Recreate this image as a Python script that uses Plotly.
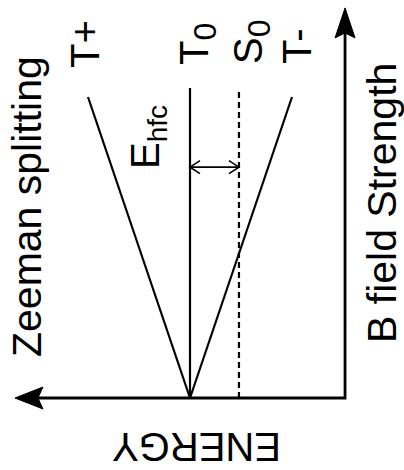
import plotly.graph_objects as go

W, H = 404, 470

# Energy levels of the radical pair versus applied field.
# Energy increases to the left, field strength increases upward.
levels = ["T+", "T0", "S0", "T-"]
level_labels = ["T+",
                "T<sub><span style='font-size:32px'>0</span></sub>",
                "S<sub><span style='font-size:32px'>0</span></sub>",
                "T-"]
energy_at_zero_field = [0.0, 0.0, -0.48, 0.0]
energy_at_top_field = [1.0, 0.0, -0.48, -1.0]
top_field = [1.0, 1.03, 1.02, 1.0]
level_dash = ["solid", "solid", "6px,4px", "solid"]

e_hfc = 0.48          # hyperfine splitting between T0 and S0
hfc_arrow_field = 0.767

energy_axis = [-1.52, 1.716]   # corner -> arrow tip
field_axis = [0.0, 1.296]      # corner -> arrow tip

x_range = [1.8627, -2.098]
y_range = [-0.2392, 1.3223]
px_per_e = W / (x_range[0] - x_range[1])
px_per_b = H / (y_range[1] - y_range[0])


def to_data(e0, b0, dx, dy):
    """Offset a data point by screen pixels (dx right, dy up)."""
    return e0 - dx / px_per_e, b0 + dy / px_per_b


def barbed_head(e0, b0, ux, uy, length, half, notch):
    """Filled barbed arrowhead with its tip at (e0, b0) pointing along (ux, uy)."""
    nx, ny = -uy, ux
    pts = [(0, 0),
           (-length * ux + half * nx, -length * uy + half * ny),
           (-notch * ux, -notch * uy),
           (-length * ux - half * nx, -length * uy - half * ny),
           (0, 0)]
    es, bs = zip(*[to_data(e0, b0, px, py) for px, py in pts])
    return list(es), list(bs)


def chevron(e0, b0, ux, uy, length, half):
    nx, ny = -uy, ux
    pts = [(-length * ux + half * nx, -length * uy + half * ny),
           (0, 0),
           (-length * ux - half * nx, -length * uy - half * ny)]
    es, bs = zip(*[to_data(e0, b0, px, py) for px, py in pts])
    return list(es), list(bs)


fig = go.Figure()

# L-shaped axes
fig.add_trace(go.Scatter(
    x=[energy_axis[1] - 20 / px_per_e, energy_axis[0], energy_axis[0]],
    y=[field_axis[0], field_axis[0], field_axis[1] - 20 / px_per_b],
    mode="lines", line=dict(color="black", width=2.8),
    hoverinfo="skip", showlegend=False))

he, hb = barbed_head(energy_axis[1], field_axis[0], -1, 0, 28, 11, 23)
fig.add_trace(go.Scatter(x=he, y=hb, mode="lines", fill="toself",
                         fillcolor="black", line=dict(color="black", width=1),
                         hoverinfo="skip", showlegend=False))
he, hb = barbed_head(energy_axis[0], field_axis[1], 0, 1, 30, 10, 25)
fig.add_trace(go.Scatter(x=he, y=hb, mode="lines", fill="toself",
                         fillcolor="black", line=dict(color="black", width=1),
                         hoverinfo="skip", showlegend=False))

# Zeeman-split levels
for name, e0, e1, bt, dash in zip(levels, energy_at_zero_field,
                                   energy_at_top_field, top_field, level_dash):
    fig.add_trace(go.Scatter(
        x=[e0, e1], y=[0.0, bt], mode="lines", name=name,
        line=dict(color="black", width=2.2, dash=dash),
        hoverinfo="skip", showlegend=False))

# Double arrow for the hyperfine energy
e_t0 = energy_at_zero_field[1]
e_s0 = e_t0 - e_hfc
fig.add_trace(go.Scatter(x=[e_t0, e_s0], y=[hfc_arrow_field] * 2, mode="lines",
                         line=dict(color="black", width=1.6),
                         hoverinfo="skip", showlegend=False))
for tip, ux in [(e_t0, -1), (e_s0, 1)]:
    ce, cb = chevron(tip, hfc_arrow_field, ux, 0, 10, 6.5)
    fig.add_trace(go.Scatter(x=ce, y=cb, mode="lines",
                             line=dict(color="black", width=1.6),
                             hoverinfo="skip", showlegend=False))

FONT = "Liberation Sans, Arial, sans-serif"


def label(text, px, py, angle, size=40):
    fig.add_annotation(text=text, x=px / W, y=1 - py / H, xref="paper", yref="paper",
                       showarrow=False, textangle=angle, xanchor="center",
                       yanchor="middle", font=dict(family=FONT, size=size, color="black"))


label_pos = [(85, 44), (197, 44), (251, 42), (297, 46)]
for text, (px, py) in zip(level_labels, label_pos):
    label(text, px, py, -90)

label("E<sub>hfc</sub>", 148, 137, -90)
label("Zeeman splitting", 27, 207, -90, 41)
label("B field Strength", 382, 203, -90, 41)
label("ENERGY", 197, 447, 180)

fig.update_layout(
    width=W, height=H,
    margin=dict(l=0, r=0, t=0, b=0),
    paper_bgcolor="white", plot_bgcolor="white",
    xaxis=dict(range=x_range, visible=False, fixedrange=True),
    yaxis=dict(range=y_range, visible=False, fixedrange=True),
    showlegend=False,
)

fig.write_html("out.html")
